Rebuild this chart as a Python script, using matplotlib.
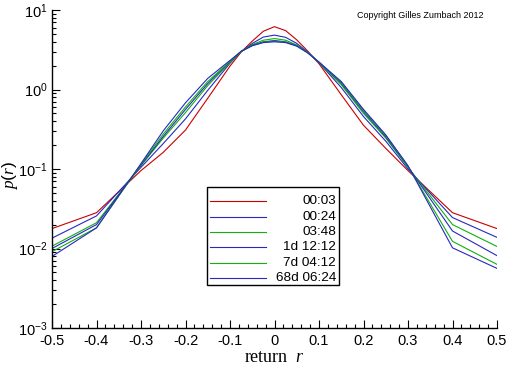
import matplotlib
matplotlib.use("Agg")
import matplotlib.pyplot as plt
from matplotlib.patches import Rectangle
from matplotlib.ticker import LogLocator, MultipleLocator, NullFormatter

plt.rcParams['font.family'] = ['Liberation Sans', 'DejaVu Sans']
plt.rcParams['mathtext.fontset'] = 'custom'
plt.rcParams['mathtext.rm'] = 'Liberation Sans'
plt.rcParams['mathtext.it'] = 'Liberation Serif:italic'
plt.rcParams['axes.unicode_minus'] = False

# ---- data ----
r = [-0.5, -0.4, -0.3, -0.25, -0.2, -0.15, -0.1, -0.075, -0.05, -0.025, 0.0,
     0.025, 0.05, 0.075, 0.1, 0.15, 0.2, 0.25, 0.3, 0.4, 0.5]

p_0003 = [0.0178, 0.0282, 0.0955, 0.162, 0.309, 0.776, 1.97, 2.96, 4.06, 5.41, 6.17,
          5.50, 4.21, 3.03, 2.11, 0.859, 0.355, 0.182, 0.0955, 0.0282, 0.0178]
p_0024 = [0.0135, 0.0257, 0.105, 0.209, 0.427, 0.977, 2.14, 2.99, 3.80, 4.57, 4.83,
          4.53, 3.80, 2.95, 2.17, 1.06, 0.457, 0.224, 0.100, 0.0245, 0.0138]
p_0348 = [0.0107, 0.0211, 0.110, 0.245, 0.513, 1.12, 2.19, 3.00, 3.67, 4.17, 4.37,
          4.17, 3.63, 2.92, 2.19, 1.15, 0.501, 0.245, 0.105, 0.0200, 0.0106]
p_1d = [0.0100, 0.0200, 0.112, 0.257, 0.562, 1.19, 2.24, 3.01, 3.61, 3.98, 4.13,
        3.98, 3.57, 2.90, 2.20, 1.20, 0.525, 0.254, 0.107, 0.0166, 0.00813]
p_7d = [0.00912, 0.0182, 0.115, 0.275, 0.603, 1.26, 2.26, 3.01, 3.57, 3.94, 4.05,
        3.94, 3.55, 2.89, 2.20, 1.23, 0.543, 0.263, 0.108, 0.0123, 0.00631]
p_68d = [0.00794, 0.0182, 0.117, 0.302, 0.681, 1.38, 2.32, 3.02, 3.55, 3.89, 3.98,
         3.89, 3.51, 2.88, 2.21, 1.26, 0.562, 0.269, 0.110, 0.0102, 0.00562]

labels = ["00:03", "00:24", "03:48", "1d 12:12", "7d 04:12", "68d 06:24"]
series = [p_0003, p_0024, p_0348, p_1d, p_7d, p_68d]
colors = ["#c80000", "#2828c0", "#10b010", "#2828c0", "#10b010", "#2828c0"]

# ---- figure ----
fig = plt.figure(figsize=(5.12, 3.66), dpi=100)
L, R, B, T = 52/512, 497/512, 1-328/366, 1-10/366
ax = fig.add_axes([L, B, R-L, T-B])

for ys, c in zip(series, colors):
    ax.plot(r, ys, color=c, lw=0.8)

ax.set_yscale('log')
ax.set_xlim(-0.5, 0.5)
ax.set_ylim(1e-3, 1e1)
ax.xaxis.set_minor_locator(MultipleLocator(0.02))
ax.set_xticks([-0.5, -0.4, -0.3, -0.2, -0.1, 0, 0.1, 0.2, 0.3, 0.4, 0.5])
ax.set_xticklabels(["-0.5", "-0.4", "-0.3", "-0.2", "-0.1", "0", "0.1", "0.2", "0.3", "0.4", "0.5"])
ax.yaxis.set_major_locator(LogLocator(base=10, numticks=10))
ax.yaxis.set_minor_locator(LogLocator(base=10, subs=range(2, 10), numticks=20))
ax.yaxis.set_minor_formatter(NullFormatter())

for s in ['top', 'right']:
    ax.spines[s].set_visible(False)
for s in ['left', 'bottom']:
    ax.spines[s].set_linewidth(1.0)
ax.tick_params(which='major', direction='in', length=6, width=0.8, labelsize=10.5, pad=3)
ax.tick_params(axis='x', which='major', pad=4)
ax.tick_params(which='minor', direction='in', length=3, width=0.8)

ax.set_xlabel("return  $r$", family='Liberation Serif', fontsize=13)
ax.xaxis.set_label_coords((275-52)/445, (328-358)/318)
ax.xaxis.label.set_va('center')
ax.set_ylabel("$p(r)$", fontsize=12.5)
ax.yaxis.set_label_coords((10-52)/445, (328-176)/318)
ax.yaxis.label.set_va('center')

fig.text(420/512, 1-16/366, "Copyright Gilles Zumbach 2012", fontsize=6.5,
         ha='center', va='center')

# ---- legend box ----
bx0, bx1 = (207-52)/445, (339-52)/445
by0, by1 = (328-285)/318, (328-187)/318
ax.add_patch(Rectangle((bx0, by0), bx1-bx0, by1-by0, transform=ax.transAxes,
                       fill=True, facecolor='white', edgecolor='black', lw=1.0, zorder=5))
ly = [201, 216.7, 232.3, 247.3, 262.7, 278.3]
for yy, lab, c in zip(ly, labels, colors):
    yf = (328-yy)/318
    ax.plot([(209.5-52)/445, (265.7-52)/445], [yf, yf], color=c, lw=0.8,
            transform=ax.transAxes, zorder=6)
    ax.text((336-52)/445, yf, lab, transform=ax.transAxes, ha='right', va='center',
            fontsize=9.7, zorder=6)

fig.savefig("out.png", dpi=100)
